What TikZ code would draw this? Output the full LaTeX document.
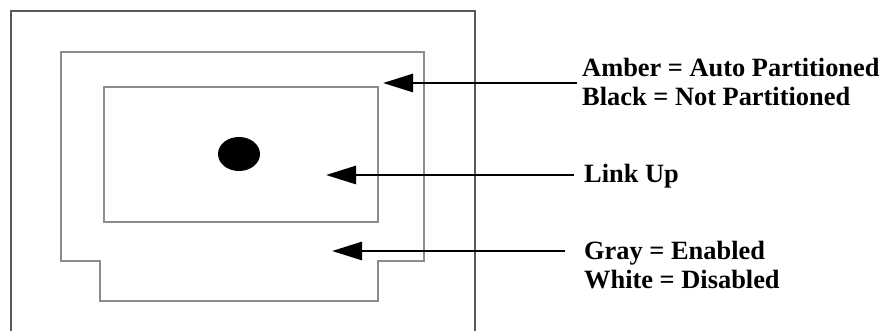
\documentclass[tikz,border=0pt]{standalone}
\usepackage{fontspec}
\setmainfont{Liberation Serif}
\usetikzlibrary{arrows.meta,positioning}

\begin{document}
\begin{tikzpicture}[
  x=1pt,y=-1pt,
  frame/.style={draw=black!65,line width=2.6pt},
  outline/.style={draw=black!45,line width=2.6pt},
  pointer/.style={draw,line width=2.8pt,-{Triangle[length=30pt,width=18pt]}},
  legend/.style={font=\fontsize{26.4}{29}\selectfont\bfseries,align=left,inner sep=0pt,anchor=base west}
]
  \useasboundingbox (0,0) rectangle (887,331);
  \draw[frame] (11,331) -- (11,11) -- (475,11) -- (475,331);
  \draw[outline] (61,52) -- (424,52) -- (424,261) -- (378,261) -- (378,301)
    -- (100,301) -- (100,261) -- (61,261) -- cycle;
  \draw[outline] (104,87) rectangle (378,222);
  \fill (239,154) ellipse [x radius=21pt,y radius=17pt];

  % base anchor sits on the last line
  \node[legend] (partition) at (582,106) {Amber = Auto Partitioned\\Black = Not Partitioned};
  \node[legend] (link) at (584,183) {Link Up};
  \node[legend] (state) at (584,289) {Gray = Enabled\\White = Disabled};

  \coordinate (partTip) at (383,83);
  \coordinate (linkTip) at (326,175);
  \coordinate (stateTip) at (332,251);

  \draw[pointer] ([xshift=-5pt]partition.west |- partTip) -- (partTip);
  \draw[pointer] ([xshift=-10pt]link.west |- linkTip) -- (linkTip);
  \draw[pointer] ([xshift=-19pt]state.west |- stateTip) -- (stateTip);
\end{tikzpicture}
\end{document}
